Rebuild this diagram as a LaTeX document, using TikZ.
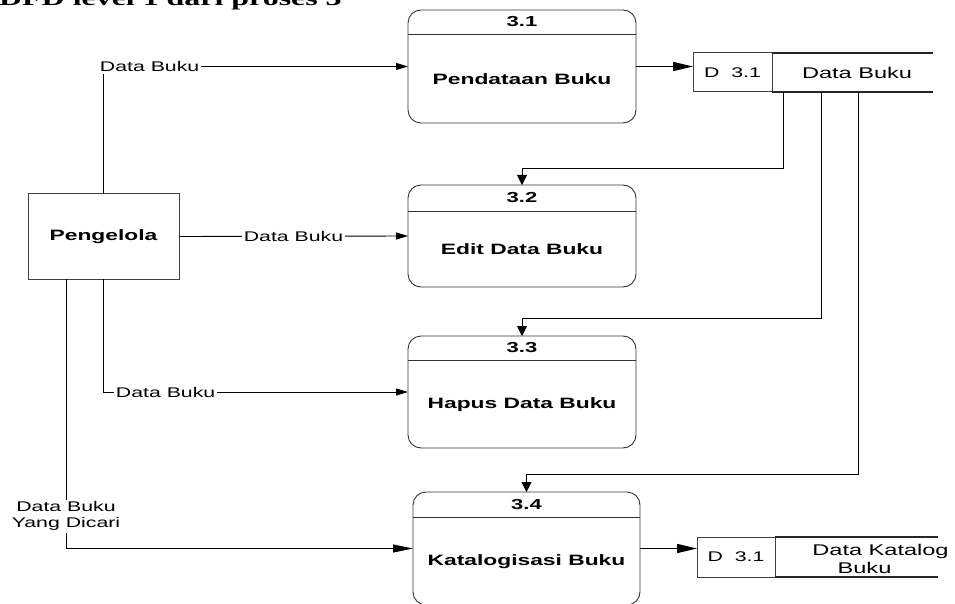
\documentclass[tikz,border=0pt]{standalone}
\usepackage{fontspec}
\setmainfont{Liberation Sans}
\newfontfamily\titlefont{Liberation Serif}
\usetikzlibrary{arrows.meta,calc}
\newcommand\hstr[1]{\scalebox{1.52}[1]{#1}}
\begin{document}
\begin{tikzpicture}[x=1pt,y=-1pt,
  proc/.style={draw=black!80, line width=0.9pt, rounded corners=13pt, inner sep=0pt, outer sep=0pt},
  hdr/.style={draw=black!80, line width=0.9pt},
  ent/.style={draw=black!75, line width=1pt, inner sep=0pt, outer sep=0pt, minimum width=151pt, minimum height=85pt, font=\bfseries\fontsize{15}{18}\selectfont},
  ptitle/.style={font=\bfseries\fontsize{15}{18}\selectfont, inner sep=0pt},
  pnum/.style={font=\bfseries\fontsize{14.5}{17}\selectfont, inner sep=0pt},
  store/.style={draw=black!75, line width=1pt, inner sep=0pt, outer sep=0pt, font=\fontsize{14}{16}\selectfont},
  sline/.style={draw=black!85, line width=1.1pt},
  stxt/.style={font=\fontsize{15.5}{18}\selectfont, inner sep=0pt},
  lbl/.style={font=\fontsize{14}{16}\selectfont, fill=white, inner sep=2pt},
  flow/.style={draw=black, line width=0.9pt},
  sarr/.style={flow, -{Triangle[length=12pt,width=7pt]}},
  darr/.style={flow, -{Triangle[length=10pt,width=10pt]}},
  barr/.style={draw=black, line width=1.6pt, -{Triangle[length=20pt,width=9pt]}},
]
\fill[white] (0,0) rectangle (955,604);
\useasboundingbox (0,0) rectangle (955,604);

% title (cut at top)
\node[anchor=base west, inner sep=0pt] (title) at (-1,6) {\titlefont\bfseries\fontsize{21}{24}\selectfont\hstr{DFD level 1 dari proses 3}};

% processes
\node[proc, minimum width=228pt, minimum height=113pt] (p31) at (522,66.5) {};
\draw[hdr] (p31.west |- 0,34) -- (p31.east |- 0,34);
\node[pnum] (p31n) at (522,22) {\hstr{3.1}};
\node[ptitle] (p31t) at (522,79) {\hstr{Pendataan Buku}};

\node[proc, minimum width=228pt, minimum height=102pt] (p32) at (522,236) {};
\draw[hdr] (p32.west |- 0,211) -- (p32.east |- 0,211);
\node[pnum] (p32n) at (522,198) {\hstr{3.2}};
\node[ptitle] (p32t) at (522,249) {\hstr{Edit Data Buku}};

\node[proc, minimum width=228pt, minimum height=112pt] (p33) at (522,392) {};
\draw[hdr] (p33.west |- 0,360) -- (p33.east |- 0,360);
\node[pnum] (p33n) at (522,348) {\hstr{3.3}};
\node[ptitle] (p33t) at (522,405) {\hstr{Hapus Data Buku}};

\node[proc, minimum width=227pt, minimum height=113pt] (p34) at (526.5,548.5) {};
\draw[hdr] (p34.west |- 0,517) -- (p34.east |- 0,517);
\node[pnum] (p34n) at (526.5,504.5) {\hstr{3.4}};
\node[ptitle] (p34t) at (526.5,562) {\hstr{Katalogisasi Buku}};

% external entity
\node[ent] (pg) at (103.5,236.5) {\hstr{Pengelola}};

% data stores
\node[store, minimum width=79pt, minimum height=39pt] (ds1) at (732.5,72.5) {\hstr{D~~3.1}};
\draw[sline] (ds1.north east) -- ++(161,0) (ds1.south east) -- ++(161,0);
\node[stxt] (ds1t) at (857,73) {\hstr{Data Buku}};

\node[store, minimum width=78pt, minimum height=40pt] (ds2) at (736,557) {\hstr{D~~3.1}};
\draw[sline] (ds2.north east) -- ++(163,0) (ds2.south east) -- ++(163,0);
\node[stxt, align=center] (ds2t) at (880.5,559) {\hstr{Data Katalog}\\\hstr{Buku}\hspace*{32pt}};

% store outlets
\coordinate (o1) at (783,92);
\coordinate (o2) at (821,92);
\coordinate (o3) at (858,92);

% flows
\draw[barr] (p31.east) -- (p31.east -| ds1.west);
\draw[barr] (p34.east) -- (p34.east -| ds2.west);
\draw[darr] (o1) -- ++(0,76) -| (p32.north);
\draw[darr] (o2) -- ++(0,226) -| (p33.north);
\draw[darr] (o3) -- ++(0,382) -| (p34.north);

\draw[sarr] (pg.north) |- (p31.west) node[lbl, pos=0.5, anchor=west, xshift=-6pt] (l1) {\hstr{Data Buku}};
\draw[sarr] (pg.east) -- (p32.west) node[lbl, midway] (l2) {\hstr{Data Buku}};
\draw[sarr] (pg.south) |- (p33.west) node[lbl, pos=0.5, anchor=west, xshift=10pt] (l3) {\hstr{Data Buku}};
\draw[flow, -{Triangle[length=20pt,width=8pt]}] ($(pg.south)+(-37.5,0)$) |- (p34.west) node[lbl, pos=0.44, align=center] (l4) {\hstr{Data Buku}\\\hstr{Yang Dicari}};
\end{tikzpicture}
\end{document}
